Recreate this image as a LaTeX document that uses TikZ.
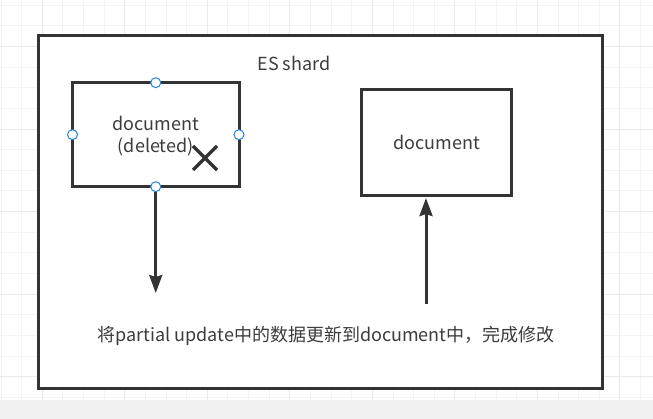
\documentclass[tikz,border=0pt]{standalone}
\usepackage{fontspec}
\setmainfont{Noto Sans CJK SC}
\usetikzlibrary{arrows.meta}
\definecolor{ink}{HTML}{333333}
\definecolor{txt}{HTML}{3C3C3C}
\definecolor{gridminor}{HTML}{F3F3F3}
\definecolor{gridmajor}{HTML}{EAEAEA}
\definecolor{band}{HTML}{F0F0F0}
\definecolor{handle}{RGB}{40,130,230}
\tikzset{
  box/.style={draw=ink, line width=3pt, fill=white, inner sep=0pt, outer sep=0pt},
  label/.style={text=txt, font=\fontsize{18}{22}\selectfont, align=center, inner sep=0pt},
  arr/.style={draw=ink, line width=3pt, -{Stealth[length=18pt, width=13pt, inset=2pt]}},
  handlept/.style={circle, draw=handle, line width=1pt, fill=white, minimum size=10pt, inner sep=0pt},
  cross/.style={draw=ink, line width=3.2pt}
}
\begin{document}
\begin{tikzpicture}[x=1pt,y=-1pt]
\useasboundingbox (0,0) rectangle (653,419);
\fill[white] (0,0) rectangle (653,419);
% grid
\foreach \i in {0,...,31} \draw[gridminor, line width=1pt] ({1.06+\i*20.63},0) -- ++(0,400);
\foreach \j in {0,...,19} \draw[gridminor, line width=1pt] (0,{5.3+\j*20.63}) -- ++(653,0);
\foreach \i in {0,...,7} \draw[gridmajor, line width=1pt] ({42.3+\i*82.52},0) -- ++(0,400);
\foreach \j in {0,...,4} \draw[gridmajor, line width=1pt] (0,{46.56+\j*82.52}) -- ++(653,0);
\fill[band] (0,400) rectangle (653,419);
% shard container
\node[box, minimum width=563.9pt, minimum height=353.5pt] (shard) at (320.25,212.05) {};
\node[label] (title) at (294,63) {ES shard};
% old document
\node[box, minimum width=166.5pt, minimum height=104pt] (lbox) at (155.75,134.7) {};
\node[label] (ltext) at (155.75,136) {document\\(deleted)};
\coordinate (xa) at (193,146);
\coordinate (xb) at (217,170);
\draw[cross] (xa) -- (xb);
\draw[cross] (xa -| xb) -- (xb -| xa);
% new document
\node[box, minimum width=150.7pt, minimum height=105.7pt] (rbox) at (436.5,142.2) {};
\node[label] (rtext) at (rbox.center) {document};
% arrows
\coordinate (downend) at (155.75,293);
\draw[arr] (lbox.south) -- (downend);
\coordinate (upstart) at (426,304);
\draw[arr, shorten >=3pt] (upstart) -- (upstart |- rbox.south);
% handles
\foreach \a in {north,south,east,west} \node[handlept] at (lbox.\a) {};
% caption
\node[label] (caption) at (326,336) {将partial update中的数据更新到document中，完成修改};
\end{tikzpicture}
\end{document}
